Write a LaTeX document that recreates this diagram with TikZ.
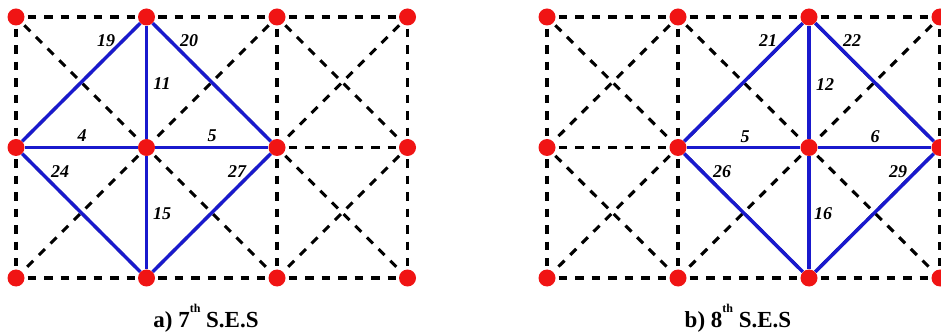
\documentclass[tikz,border=0pt]{standalone}
\usepackage{fontspec}
\setmainfont{Liberation Serif}
\definecolor{dotred}{RGB}{240,20,20}
\definecolor{edgeblue}{RGB}{25,25,205}
\tikzset{
  gridline/.style={draw=black,line width=3.1pt,dash pattern=on 8.5pt off 8pt,shorten <=3pt,shorten >=3pt},
  blueline/.style={draw=edgeblue,line width=3.5pt},
  dot/.style={circle,fill=dotred,draw=none,minimum size=17pt,inner sep=0pt},
  elabel/.style={font=\fontsize{18}{18}\selectfont\bfseries\itshape,inner sep=0pt},
  caption/.style={font=\fontsize{23}{23}\selectfont\bfseries,inner sep=0pt}
}
\newcommand{\mkgrid}[3]{% prefix, x0, dx
  \foreach \i in {0,1,2,3}{
    \foreach \j/\yy in {0/17,1/147.5,2/278}{
      \node[dot] (#1\i\j) at ({#2+#3*\i},\yy) {};
    }
  }
  \foreach \j in {0,1,2}{
    \foreach \i/\k in {0/1,1/2,2/3}{
      \draw[gridline] (#1\i\j) -- (#1\k\j);
    }
  }
  \foreach \i in {0,1,2,3}{
    \draw[gridline] (#1\i0) -- (#1\i1);
    \draw[gridline] (#1\i1) -- (#1\i2);
  }
  \foreach \i/\k in {0/1,1/2,2/3}{
    \foreach \j/\l in {0/1,1/2}{
      \draw[gridline] (#1\i\j) -- (#1\k\l);
      \draw[gridline] (#1\k\j) -- (#1\i\l);
    }
  }
}
\newcommand{\thsup}{\raisebox{1.4ex}{\fontsize{12}{12}\selectfont th}\kern0.25em}
\begin{document}
\begin{tikzpicture}[x=1pt,y=-1pt]
\useasboundingbox (0,0) rectangle (941,336);
\clip (0,0) rectangle (941,336);
% left grid
\mkgrid{L}{16}{130.5}
% right grid
\mkgrid{R}{547}{131}
% blue diamond left
\draw[blueline] (L01) -- (L10);
\draw[blueline] (L10) -- (L21);
\draw[blueline] (L21) -- (L12);
\draw[blueline] (L12) -- (L01);
\draw[blueline] (L01) -- (L11);
\draw[blueline] (L11) -- (L21);
\draw[blueline] (L10) -- (L11);
\draw[blueline] (L11) -- (L12);
% blue diamond right
\draw[blueline] (R11) -- (R20);
\draw[blueline] (R20) -- (R31);
\draw[blueline] (R31) -- (R22);
\draw[blueline] (R22) -- (R11);
\draw[blueline] (R11) -- (R21);
\draw[blueline] (R21) -- (R31);
\draw[blueline] (R20) -- (R21);
\draw[blueline] (R21) -- (R22);
% labels left
\node[elabel] (l19) at (106,41) {19};
\node[elabel] (l20) at (189,41) {20};
\node[elabel] (l11) at (162,84) {11};
\node[elabel] (l4) at (82,136) {4};
\node[elabel] (l5) at (212,136) {5};
\node[elabel] (l24) at (60,172) {24};
\node[elabel] (l27) at (237,172) {27};
\node[elabel] (l15) at (162,214) {15};
% labels right
\node[elabel] (r21) at (768,41) {21};
\node[elabel] (r22) at (852,41) {22};
\node[elabel] (r12) at (825,85) {12};
\node[elabel] (r5) at (745,137) {5};
\node[elabel] (r6) at (875,137) {6};
\node[elabel] (r26) at (722,172) {26};
\node[elabel] (r29) at (898,172) {29};
\node[elabel] (r16) at (823,214) {16};
% captions
\node[caption] (capa) at (206,318) {a) 7\thsup S.E.S};
\node[caption] (capb) at (738,318) {b) 8\thsup S.E.S};
\end{tikzpicture}
\end{document}
